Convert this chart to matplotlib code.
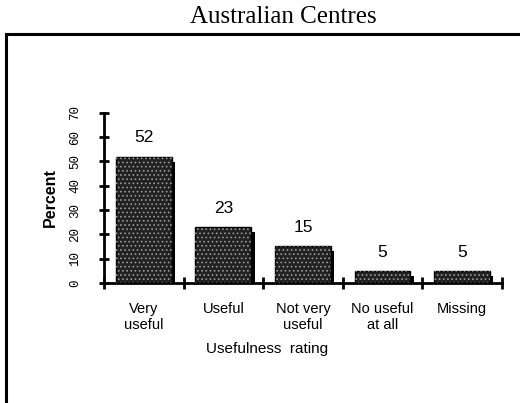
import matplotlib
matplotlib.use("Agg")
import matplotlib.pyplot as plt
import matplotlib.transforms as mtransforms
from matplotlib.lines import Line2D
import numpy as np

categories = ["Very\nuseful", "Useful", "Not very\nuseful", "No useful\nat all", "Missing"]
percent = [52, 23, 15, 5, 5]
yticks = [0, 10, 20, 30, 40, 50, 60, 70]

fig = plt.figure(figsize=(5.2, 4.03), dpi=100)
ax = fig.add_axes([0.2, 0.298, 0.765, 0.422])

x = np.arange(len(categories))

# drop shadow: same bars, shifted right and down a few pixels
shadow = mtransforms.offset_copy(ax.transData, fig=fig, x=3.5, y=-5, units="dots")
ax.bar(x, percent, width=0.7, color="black", linewidth=0, transform=shadow, zorder=1)
ax.bar(x, percent, width=0.7, color="#222222", edgecolor="black", linewidth=1, zorder=2)
# speckled texture on top
plt.rcParams["hatch.linewidth"] = 0.7
ax.bar(x, percent, width=0.7, fill=False, hatch="....", edgecolor="#9a9a9a", linewidth=0, zorder=3)

for xi, v in zip(x, percent):
    ax.annotate(str(v), (xi, v), xytext=(0, 8), textcoords="offset points",
                ha="center", va="bottom", fontsize=12.5, family="Liberation Sans")

ax.set_xlim(-0.5, len(categories) - 0.5)
ax.set_ylim(0, 70)

ax.spines["top"].set_visible(False)
ax.spines["right"].set_visible(False)
ax.spines["left"].set_linewidth(2)
ax.spines["bottom"].set_linewidth(2)

ax.set_yticks(yticks)
ax.set_yticklabels([str(t) for t in yticks], rotation=90, va="center",
                   family="Liberation Mono", fontsize=9)
ax.tick_params(axis="y", direction="inout", length=7, width=2, pad=13)

# ticks on the category boundaries, labels in the middle
ax.set_xticks(np.arange(len(categories) + 1) - 0.5)
ax.set_xticklabels([])
ax.tick_params(axis="x", direction="inout", length=9, width=2)
ax.set_xticks(x, minor=True)
ax.set_xticklabels(categories, minor=True, family="Liberation Sans", fontsize=10.5,
                   linespacing=1.15)
ax.tick_params(axis="x", which="minor", length=0, pad=14)

ax.set_ylabel("Percent", family="Liberation Sans", fontsize=11.5, fontweight="bold",
              labelpad=8)

fig.text(267 / 520, 1 - 349 / 403, "Usefulness  rating", ha="center", va="center",
         family="Liberation Sans", fontsize=11)
fig.text(283 / 520, 1 - 17 / 403, "Australian Centres", ha="center", va="center",
         family="Liberation Serif", fontsize=18)

# outer frame: top and left edges only
fig.add_artist(Line2D([6 / 520, 1.0], [1 - 34 / 403, 1 - 34 / 403], color="black", lw=2.2,
                      transform=fig.transFigure))
fig.add_artist(Line2D([6 / 520, 6 / 520], [1 - 34 / 403, 0.002], color="black", lw=2.2,
                      transform=fig.transFigure))

fig.savefig("out.png", dpi=100)
